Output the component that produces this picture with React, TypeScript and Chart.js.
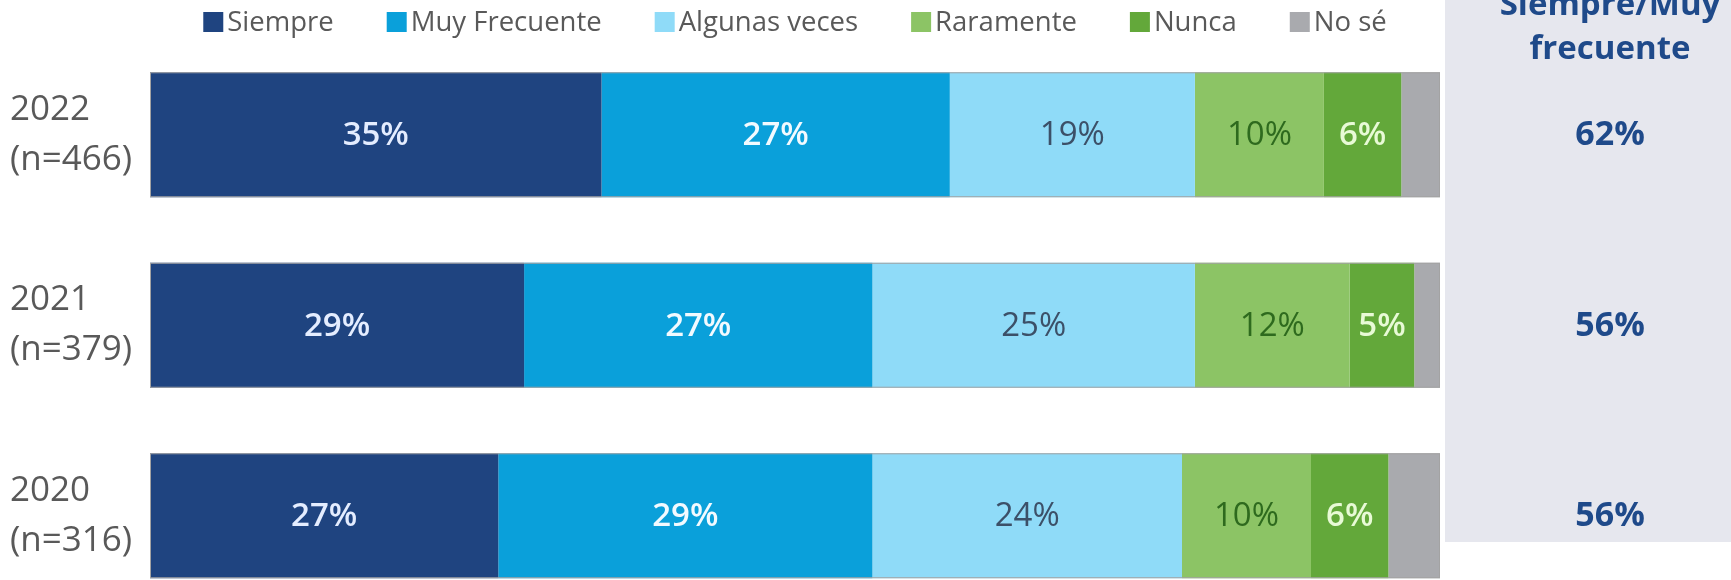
import React, { useEffect, useRef } from "react";
import { Chart, registerables } from "chart.js";

Chart.register(...registerables);

const categories: string[][] = [
  ["2022", "(n=466)"],
  ["2021", "(n=379)"],
  ["2020", "(n=316)"],
];
const seriesNames = ["Siempre", "Muy Frecuente", "Algunas veces", "Raramente", "Nunca", "No sé"];
const siempre = [35, 29, 27];
const muyFrecuente = [27, 27, 29];
const algunasVeces = [19, 25, 24];
const raramente = [10, 12, 10];
const nunca = [6, 5, 6];
const noSe = [3, 2, 4];
const siempreMuyTotals = ["62%", "56%", "56%"];
const panelTitle = ["Siempre/Muy", "frecuente"];

const colors = ["#1f4480", "#0aa0da", "#8fdbf8", "#8cc465", "#63a83a", "#a9aaae"];
const labelColors = ["#e4edff", "#f2faff", "#3c5068", "#2e6a1e", "#e8fad6", ""];
const labelWeights = ["600", "600", "400", "400", "600", "400"];

const FONT = '"Open Sans", "DejaVu Sans", sans-serif';

const legendPlugin = {
  id: "customLegend",
  afterDraw(chart: any) {
    const ctx = chart.ctx;
    ctx.save();
    ctx.font = `27.5px ${FONT}`;
    ctx.textBaseline = "middle";
    ctx.textAlign = "left";
    const box = 20;
    const gapBox = 4;
    const gapItem = 53;
    const dsets = chart.data.datasets;
    let total = 0;
    dsets.forEach((ds: any, i: number) => {
      total += box + gapBox + ctx.measureText(ds.label).width;
      if (i < dsets.length - 1) total += gapItem;
    });
    const center = (chart.chartArea.left + chart.chartArea.right) / 2;
    let x = center - total / 2;
    const y = 22;
    dsets.forEach((ds: any) => {
      ctx.fillStyle = ds.backgroundColor;
      ctx.fillRect(x, y - box / 2, box, box);
      x += box + gapBox;
      ctx.fillStyle = "#595959";
      ctx.fillText(ds.label, x, y + 1);
      x += ctx.measureText(ds.label).width + gapItem;
    });
    ctx.restore();
  },
};

const panelPlugin = {
  id: "rightPanel",
  beforeDraw(chart: any) {
    const ctx = chart.ctx;
    const yScale = chart.scales.y;
    ctx.save();
    const left = chart.chartArea.right + 5;
    ctx.fillStyle = "#e6e7ee";
    ctx.fillRect(left, 0, chart.width - left, 542);
    const cx = 1610;
    ctx.fillStyle = "#1f4a8a";
    ctx.textAlign = "center";
    ctx.textBaseline = "alphabetic";
    ctx.font = `bold 33px ${FONT}`;
    ctx.fillText(panelTitle[0], cx, 15);
    ctx.fillText(panelTitle[1], cx, 59);
    ctx.font = `bold 34px ${FONT}`;
    ctx.textBaseline = "middle";
    siempreMuyTotals.forEach((t, i) => {
      ctx.fillText(t, cx, yScale.getPixelForValue(i) + 1);
    });
    ctx.restore();
  },
};

const barDecorPlugin = {
  id: "barDecor",
  afterDatasetsDraw(chart: any) {
    const ctx = chart.ctx;
    const n = chart.data.datasets.length;
    const first = chart.getDatasetMeta(0);
    const last = chart.getDatasetMeta(n - 1);
    ctx.save();
    ctx.strokeStyle = "#a3a3a3";
    ctx.lineWidth = 1;
    first.data.forEach((el: any, i: number) => {
      const lastEl = last.data[i];
      const l = Math.min(el.base, el.x);
      const r = Math.max(lastEl.x, lastEl.base);
      const top = el.y - el.height / 2;
      ctx.strokeRect(l + 0.5, top + 0.5, r - l - 1, el.height - 1);
    });
    ctx.textAlign = "center";
    ctx.textBaseline = "middle";
    chart.data.datasets.forEach((ds: any, di: number) => {
      if (!labelColors[di]) return;
      const meta = chart.getDatasetMeta(di);
      ctx.font = `${labelWeights[di]} 33px ${FONT}`;
      ctx.fillStyle = labelColors[di];
      meta.data.forEach((el: any, i: number) => {
        const cx = (el.x + el.base) / 2;
        ctx.fillText(`${ds.data[i]}%`, cx, el.y + 1);
      });
    });
    ctx.restore();
  },
};

export default function App() {
  const ref = useRef<HTMLCanvasElement>(null);
  useEffect(() => {
    if (!ref.current) return;
    const values = [siempre, muyFrecuente, algunasVeces, raramente, nunca, noSe];
    const chart = new Chart(ref.current, {
      type: "bar",
      data: {
        labels: categories as any,
        datasets: values.map((v, i) => ({
          label: seriesNames[i],
          data: v,
          backgroundColor: colors[i],
          borderWidth: 0,
          barPercentage: 0.656,
          categoryPercentage: 1,
        })),
      },
      options: {
        indexAxis: "y",
        animation: false,
        responsive: false,
        maintainAspectRatio: false,
        layout: { padding: { left: 10, right: 291, top: 39.5, bottom: 0 } },
        plugins: {
          legend: { display: false },
          tooltip: { enabled: false },
        },
        scales: {
          x: {
            stacked: true,
            min: 0,
            max: 100,
            display: false,
          },
          y: {
            stacked: true,
            offset: true,
            grid: { display: false },
            border: { display: false },
            afterFit(scale: any) {
              scale.width = 140;
              scale.paddingTop = 0;
              scale.paddingBottom = 0;
            },
            ticks: {
              crossAlign: "far",
              padding: 0,
              color: "#595959",
              font: { family: FONT, size: 35, lineHeight: 1.43 },
            },
          },
        },
      },
      plugins: [panelPlugin, barDecorPlugin, legendPlugin],
    });
    return () => chart.destroy();
  }, []);

  return (
    <div
      style={{
        position: "absolute",
        left: 0,
        top: 0,
        width: 1731,
        height: 580,
        overflow: "hidden",
        background: "#ffffff",
      }}
    >
      <canvas ref={ref} width={1731} height={611} style={{ display: "block" }} />
    </div>
  );
}
